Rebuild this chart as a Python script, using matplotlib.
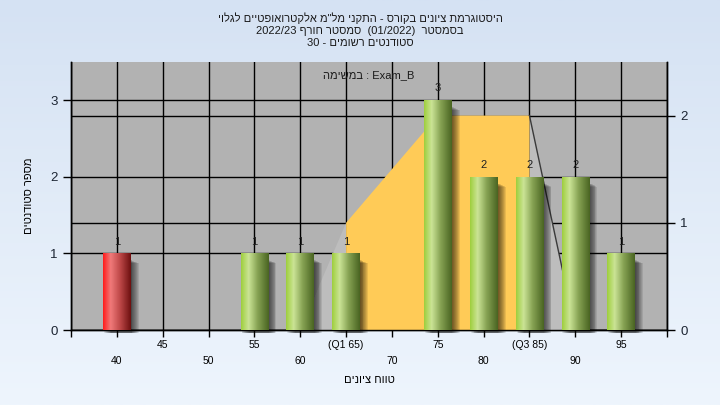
import re
import numpy as np
import matplotlib.pyplot as plt
from matplotlib.colors import LinearSegmentedColormap
from matplotlib.patches import Polygon

# ---- data ----
grades = [40, 55, 60, 65, 75, 80, 85, 90, 95]
counts = [1, 1, 1, 1, 3, 2, 2, 2, 1]
pass_grade = 55

# quartile band (right axis)
box_x = [65, 65, 75, 85, 85]
box_y = [0, 1, 2, 2, 0]
low_x = [60, 65, 65]
low_y = [0, 1, 0]
high_x = [85, 85, 90]
high_y = [0, 2, 0]
whisk_x = [85, 90, 95]
whisk_y = [2, 0, 0]

x_ticks = list(range(35, 101, 5))
tick_names = {65: "(Q1 65)", 85: "(Q3 85)"}
left_ticks = [0, 1, 2, 3]
right_ticks = [0, 1, 2]

title_lines = [
    'היסטוגרמת ציונים בקורס - התקני מל"מ אלקטרואופטיים לגלוי',
    "בסמסטר  (01/2022)  סמסטר חורף 2022/23",
    "סטודנטים רשומים - 30",
]
task_word = "במשימה"
task_name = "Exam_B"
x_title = "טווח ציונים"
y_title = "מספר סטודנטים"

MIRROR = str.maketrans("()[]", ")(][")


def heb(s):
    # matplotlib has no bidi, so put the text in visual order
    parts = re.split(r"([A-Za-z0-9][A-Za-z0-9/._]*)", s)
    out = []
    for i, p in enumerate(parts):
        out.append(p if i % 2 else p[::-1].translate(MIRROR))
    return "".join(reversed(out))


plt.rcParams['font.family'] = ['Liberation Sans', 'DejaVu Sans']

green_map = LinearSegmentedColormap.from_list(
    "g", [(0, "#9fcf3e"), (0.27, "#cbe496"), (0.6, "#86a253"), (1, "#4a6522")])
red_map = LinearSegmentedColormap.from_list(
    "r", [(0, "#ff1c1c"), (0.27, "#f07a7a"), (0.6, "#c04a4a"), (1, "#6e1010")])
bg_map = LinearSegmentedColormap.from_list("bg", ["#d5e2f3", "#eef5fd"])

fig = plt.figure(figsize=(7.2, 4.05), dpi=100)
bg = fig.add_axes([0, 0, 1, 1], zorder=-5)
bg.imshow(np.linspace(0, 1, 256).reshape(-1, 1), cmap=bg_map, aspect='auto',
          extent=[0, 1, 0, 1])
bg.axis('off')

ax = fig.add_axes([0.0986, 0.185, 0.8278, 0.662])
ax2 = ax.twinx()
ax.set_zorder(ax2.get_zorder() + 1)
ax.patch.set_visible(False)
ax2.patch.set_visible(True)
ax2.patch.set_facecolor("#b2b2b2")

ax.set_xlim(35, 100)
ax.set_ylim(0, 3.5)
ax2.set_ylim(0, 2.5)

# quartile band, drawn in right-axis units but under the bars
ax.add_patch(Polygon(np.column_stack([low_x, low_y]), closed=True,
                     transform=ax2.transData, facecolor="#bdbdbd", edgecolor="none", zorder=1))
ax.add_patch(Polygon(np.column_stack([high_x, high_y]), closed=True,
                     transform=ax2.transData, facecolor="#bdbdbd", edgecolor="none", zorder=1))
ax.add_patch(Polygon(np.column_stack([box_x, box_y]), closed=True,
                     transform=ax2.transData, facecolor="#ffcb57", edgecolor="none", zorder=1.2))
ax.plot(whisk_x, whisk_y, transform=ax2.transData, color="#3a3a3a", lw=1.0, zorder=1.3)

width = 3.0
grad = np.linspace(0, 1, 64).reshape(1, -1)
for g, c in zip(grades, counts):
    cmap = red_map if g < pass_grade else green_map
    # soft shadow
    for d in np.arange(0.1, 0.95, 0.1):
        ax.bar(g + d, c - 0.04 - d * 0.06, width=width, bottom=-0.035, color="black",
               alpha=0.09, linewidth=0, zorder=2, clip_on=False)
    bar = ax.bar(g, c, width=width, facecolor="none", edgecolor="none", zorder=3)[0]
    x0, w, h = bar.get_x(), bar.get_width(), bar.get_height()
    im = ax.imshow(grad, cmap=cmap, extent=[x0, x0 + w, 0, h], aspect='auto', zorder=3)
    im.set_clip_path(bar)
    ax.annotate(str(c), (g, c), xytext=(0, 5), textcoords='offset points',
                ha='center', va='bottom', fontsize=8, color="#202020", zorder=5)

ax.set_xlim(35, 100)
ax.set_ylim(0, 3.5)

# ticks: odd multiples on the upper row, even on the lower row
major = [v for v in x_ticks if v % 10 == 5]
minor = [v for v in x_ticks if v % 10 == 0]
ax.set_xticks(major, ["" if v == 35 else tick_names.get(v, str(v)) for v in major])
ax.set_xticks(minor, ["" if v == 100 else tick_names.get(v, str(v)) for v in minor], minor=True)
ax.tick_params(axis='x', which='both', direction='out', length=5, width=1,
               labelsize=7.5, colors='black')
ax.tick_params(axis='x', which='major', pad=2.5)
ax.tick_params(axis='x', which='minor', pad=14)
ax.set_yticks(left_ticks)
ax.tick_params(axis='y', length=6, width=1, labelsize=9.5, labelcolor="#1c2533")
ax2.set_yticks(right_ticks)
ax2.tick_params(axis='y', length=6, width=1, labelsize=9.5, labelcolor="#1c2533")

ax.grid(axis='x', which='both', color='black', lw=1.0)
ax.grid(axis='y', color='black', lw=1.0)
ax2.grid(axis='y', color='black', lw=1.0)
ax.set_axisbelow(True)
for a in (ax, ax2):
    a.spines['top'].set_visible(False)
    for s in ('left', 'right', 'bottom'):
        a.spines[s].set_linewidth(1.0)
        a.spines[s].set_color('black')

ax.text(0.5, 0.951, heb(task_word) + " : " + task_name, transform=ax.transAxes,
        ha='center', va='center', fontsize=8, color="#1a1a1a", zorder=6)

ax.set_xlabel(heb(x_title), fontsize=8, labelpad=6)
ax.set_ylabel(heb(y_title), fontsize=8, labelpad=12)

for i, line in enumerate(title_lines):
    fig.text(0.5, 1 - (18 + 12.5 * i) / 405, heb(line), ha='center', va='center',
             fontsize=8, color="#1a1a1a")

fig.savefig("out.png", dpi=100)
